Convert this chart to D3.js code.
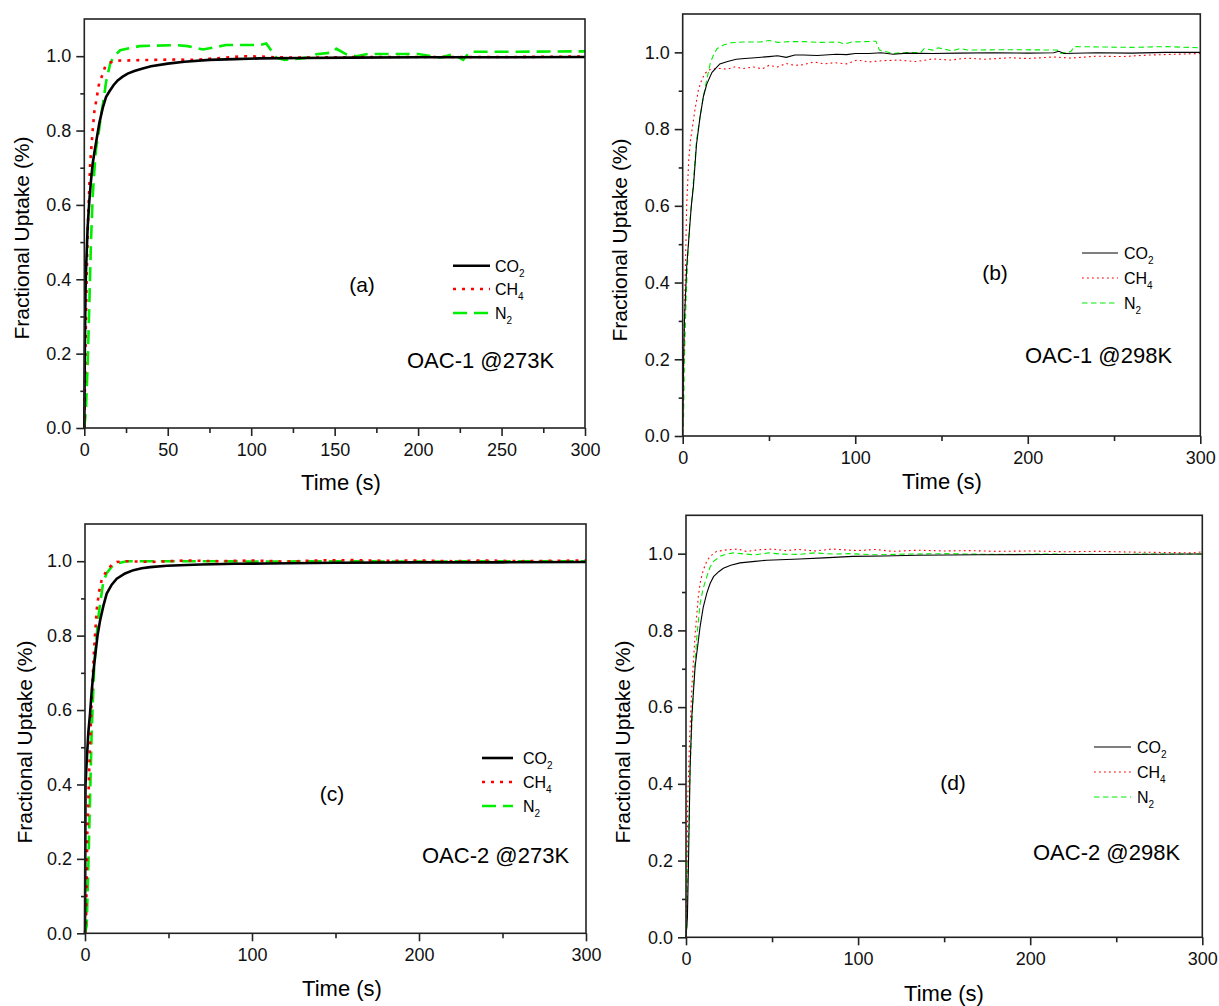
<!DOCTYPE html>
<html>
<head>
<meta charset="utf-8">
<script src="https://cdn.jsdelivr.net/npm/d3@7"></script>
<style>
  body { margin: 0; background: #fff; }
  svg { font-family: "Liberation Sans", Arial, sans-serif; }
</style>
</head>
<body>
<svg width="1219" height="1006"></svg>
<script>
// series: [time (s), fractional uptake]
const a_CO2 = [[0,0],[0.3,0.2],[0.7,0.36],[1,0.42],[2,0.54],[3,0.61],[4,0.665],[5,0.71],[6,0.74],[7.5,0.78],[9,0.82],[11,0.86],[13,0.89],[15,0.905],[17.5,0.922],[20,0.935],[23,0.945],[26,0.953],[30,0.96],[35,0.967],[40,0.973],[50,0.98],[60,0.985],[75,0.99],[90,0.992],[105,0.994],[130,0.995],[160,0.996],[200,0.997],[250,0.997],[300,0.998]]
const a_CH4 = [[0,0],[0.5,0.15],[1,0.3],[1.5,0.42],[2,0.52],[2.5,0.59],[3.5,0.71],[5,0.8],[6,0.85],[7.5,0.89],[9,0.93],[10.5,0.945],[12.5,0.972],[15,0.982],[17.5,0.986],[20,0.988],[30,0.989],[40,0.99],[55,0.991],[65,0.99],[75,0.993],[85,0.996],[95,1.0],[105,0.999],[115,0.997],[130,0.996],[150,0.997],[180,0.998],[220,0.998],[260,0.998],[300,0.999]]
const a_N2 = [[0,0],[1,0.05],[2,0.17],[3,0.33],[4,0.5],[5,0.62],[6,0.69],[7,0.75],[8.5,0.79],[10,0.84],[11.5,0.88],[13,0.93],[15.5,0.98],[17.5,0.998],[21.5,1.016],[33,1.027],[55,1.03],[62,1.027],[71,1.018],[85,1.03],[105,1.03],[109,1.034],[115,0.996],[120,0.99],[130,0.994],[137,0.998],[139,1.005],[149,1.01],[151,1.02],[157,1.005],[163,1.0],[170,1.006],[200,1.006],[213,0.996],[221,1.005],[227,0.99],[231,1.012],[260,1.012],[300,1.013]]

const b_CO2 = [[0,0],[0.5,0.2],[1,0.3],[2.3,0.44],[3.8,0.53],[5,0.6],[6.2,0.65],[8,0.76],[10,0.83],[12,0.885],[14,0.918],[17,0.948],[21.5,0.97],[26,0.976],[31,0.982],[36,0.984],[42,0.986],[50,0.989],[55,0.991],[60,0.987],[65,0.993],[70,0.993],[78,0.992],[89,0.995],[95,0.994],[100,0.997],[108,0.997],[115,0.999],[122,0.995],[130,0.998],[145,0.997],[160,0.998],[180,0.999],[200,0.998],[215,0.999],[218,1.003],[221,0.997],[240,0.999],[260,0.998],[280,1.0],[300,1.0]]
const b_CH4 = [[0,0],[0.5,0.15],[1,0.31],[2.3,0.6],[3.5,0.72],[4.5,0.77],[5.8,0.81],[7.1,0.85],[9,0.9],[11,0.928],[13,0.945],[15,0.954],[18,0.957],[22,0.958],[26,0.956],[30,0.962],[35,0.958],[41,0.962],[46,0.957],[50,0.966],[55,0.962],[60,0.971],[65,0.966],[70,0.968],[76,0.975],[82,0.97],[88,0.973],[95,0.97],[101,0.98],[108,0.975],[115,0.978],[125,0.98],[135,0.976],[145,0.983],[155,0.98],[165,0.985],[175,0.982],[190,0.986],[200,0.984],[215,0.988],[225,0.985],[240,0.99],[255,0.989],[270,0.993],[285,0.995],[300,0.997]]
const b_N2 = [[0,0],[0.5,0.05],[1,0.2],[2,0.36],[3,0.47],[4,0.55],[5,0.6],[6.5,0.68],[8,0.77],[10,0.83],[12,0.885],[14,0.93],[16,0.972],[18,0.995],[20,1.01],[24,1.02],[28,1.025],[35,1.027],[45,1.027],[50,1.031],[55,1.026],[62,1.028],[70,1.028],[80,1.026],[90,1.027],[94,1.022],[98,1.027],[112,1.029],[114,1.006],[122,0.997],[126,0.999],[138,1.0],[140,1.01],[145,1.006],[148,1.012],[152,1.008],[156,1.004],[161,1.01],[165,1.006],[190,1.007],[217,1.006],[219,0.997],[225,1.002],[227,1.015],[260,1.013],[280,1.015],[300,1.012]]

const c_CO2 = [[0,0],[0.3,0.4],[1,0.46],[2,0.54],[3,0.59],[4,0.65],[5,0.7],[6,0.743],[7.5,0.8],[9,0.84],[11,0.88],[13,0.913],[16,0.937],[19,0.953],[24,0.967],[29,0.976],[34,0.981],[39,0.984],[49,0.988],[69,0.991],[90,0.993],[110,0.994],[150,0.996],[200,0.997],[250,0.997],[300,0.998]]
const c_CH4 = [[0,0],[0.7,0.05],[1.4,0.27],[2.6,0.45],[4,0.63],[5.4,0.76],[7,0.87],[8.5,0.92],[10,0.95],[13,0.975],[16,0.99],[19,0.998],[25,1.0],[40,0.998],[60,1.002],[80,1.0],[100,1.002],[120,0.999],[140,1.002],[160,1.003],[180,1.001],[200,1.002],[220,1.0],[240,1.002],[260,1.0],[280,1.001],[300,1.002]]
const c_N2 = [[0,0],[1,0.02],[2,0.18],[3,0.36],[4,0.54],[5.5,0.716],[7,0.8],[8,0.85],[9.5,0.9],[11,0.945],[13,0.968],[16,0.985],[19,0.994],[25,1.0],[50,1.0],[80,1.0],[100,0.999],[150,1.0],[200,0.999],[250,1.0],[300,1.0]]

const d_CO2 = [[0,0],[0.8,0.05],[1.4,0.18],[2.4,0.445],[3.4,0.576],[5.3,0.706],[8.2,0.81],[10,0.86],[12.1,0.897],[14,0.922],[16,0.94],[19,0.953],[21.7,0.962],[26,0.97],[31.4,0.976],[40,0.98],[47,0.983],[66,0.986],[80,0.989],[97,0.993],[115,0.994],[134,0.996],[170,0.997],[210,0.998],[250,0.998],[300,0.999]]
const d_CH4 = [[0,0],[0.5,0.15],[1,0.36],[2.2,0.53],[3.5,0.66],[5.3,0.79],[7.2,0.89],[8.5,0.93],[10.1,0.958],[12,0.98],[14,0.993],[17.8,1.006],[23.6,1.01],[30,1.012],[35,1.006],[42,1.01],[50,1.012],[58,1.008],[65,1.011],[75,1.007],[85,1.012],[92,1.01],[100,1.008],[110,1.011],[120,1.006],[135,1.009],[150,1.007],[165,1.008],[180,1.006],[200,1.007],[220,1.005],[240,1.006],[260,1.004],[280,1.003],[295,1.002],[300,1.005]]
const d_N2 = [[0,0],[0.5,0.02],[1,0.18],[2.4,0.445],[4.4,0.66],[6.4,0.79],[8.2,0.87],[10,0.91],[12.1,0.94],[14,0.965],[16,0.98],[19.8,0.993],[23,0.998],[27.5,1.002],[32,1.0],[40,0.997],[48,1.002],[55,0.999],[65,0.998],[75,1.002],[85,0.999],[95,1.0],[110,0.997],[130,0.999],[150,1.0],[180,0.998],[210,0.999],[240,0.998],[270,0.999],[300,0.999]]

const gases = [["CO", "2"], ["CH", "4"], ["N", "2"]]
const yMajor = [0, 0.2, 0.4, 0.6, 0.8, 1.0]
const yMinor = [0.1, 0.3, 0.5, 0.7, 0.9]
const xMajorFine = [0, 50, 100, 150, 200, 250, 300]
const xMinorFine = [25, 75, 125, 175, 225, 275]
const xMajor = [0, 100, 200, 300]
const xMinor = [50, 150, 250]

const colors = ["#000000", "#ff0000", "#00ee00"]

const panels = [
    { series: [a_CO2, a_CH4, a_N2], left: 84.3, right: 585, top: 19, bottom: 428,
      xMaj: xMajorFine, xMin: xMinorFine, thick: true,
      tag: "(a)", tagPos: [362, 292], note: "OAC-1 @273K", notePos: [407, 368],
      leg: { x1: 453, x2: 490, tx: 495, rows: [265.7, 289, 313] },
      yTitle: [29, 238], xTitle: [341, 490] },
    { series: [b_CO2, b_CH4, b_N2], left: 682.7, right: 1200.3, top: 14, bottom: 436,
      xMaj: xMajor, xMin: xMinor, thick: false,
      tag: "(b)", tagPos: [995, 280], note: "OAC-1 @298K", notePos: [1025, 363],
      leg: { x1: 1082, x2: 1118, tx: 1124, rows: [253, 278, 303] },
      yTitle: [627, 240], xTitle: [942, 489] },
    { series: [c_CO2, c_CH4, c_N2], left: 85, right: 586, top: 524, bottom: 933.3,
      xMaj: xMajor, xMin: xMinor, thick: true,
      tag: "(c)", tagPos: [332, 801], note: "OAC-2 @273K", notePos: [422, 863],
      leg: { x1: 482, x2: 513, tx: 523, rows: [758, 782, 806] },
      yTitle: [32, 742], xTitle: [342, 996] },
    { series: [d_CO2, d_CH4, d_N2], left: 686, right: 1202.3, top: 515.3, bottom: 937.3,
      xMaj: xMajor, xMin: xMinor, thick: false,
      tag: "(d)", tagPos: [953, 790], note: "OAC-2 @298K", notePos: [1033, 860],
      leg: { x1: 1094, x2: 1131, tx: 1137, rows: [747, 772, 797] },
      yTitle: [630, 742], xTitle: [944, 1001] }
]

const svg = d3.select("svg")

panels.forEach(p => {
    const x = d3.scaleLinear().domain([0, 300]).range([p.left, p.right])
    const y = d3.scaleLinear().domain([0, 1.1]).range([p.bottom, p.top])
    const g = svg.append("g")

    const lw = p.thick ? 2.6 : 1.1
    const dashes = p.thick ? [null, "3,6", "14,7"] : [null, "1.8,3.2", "5.5,3.5"]

    // curves
    const line = d3.line().x(d => x(d[0])).y(d => y(d[1]))
    ;[2, 1, 0].forEach(i => {
        g.append("path")
            .attr("d", line(p.series[i]))
            .attr("fill", "none")
            .attr("stroke", colors[i])
            .attr("stroke-width", lw)
            .attr("stroke-dasharray", dashes[i])
    })

    // frame
    g.append("rect")
        .attr("x", p.left).attr("y", p.top)
        .attr("width", p.right - p.left).attr("height", p.bottom - p.top)
        .attr("fill", "none").attr("stroke", "#222").attr("stroke-width", 1.6)

    // axes
    const styleAxis = sel => {
        sel.select(".domain").remove()
        sel.selectAll("line").attr("stroke", "#222").attr("stroke-width", 1.6)
        sel.selectAll("text").attr("font-size", 18).attr("fill", "#111")
            .style("font-family", "'Liberation Sans', Arial, sans-serif")
    }
    g.append("g").attr("transform", `translate(0,${p.bottom})`)
        .call(d3.axisBottom(x).tickValues(p.xMaj).tickSize(8).tickPadding(7).tickFormat(d3.format("d")))
        .call(styleAxis)
    g.append("g").attr("transform", `translate(0,${p.bottom})`)
        .call(d3.axisBottom(x).tickValues(p.xMin).tickSize(5).tickFormat(""))
        .call(styleAxis)
    g.append("g").attr("transform", `translate(${p.left},0)`)
        .call(d3.axisLeft(y).tickValues(yMajor).tickSize(8).tickPadding(5).tickFormat(d3.format(".1f")))
        .call(styleAxis)
    g.append("g").attr("transform", `translate(${p.left},0)`)
        .call(d3.axisLeft(y).tickValues(yMinor).tickSize(4).tickFormat(""))
        .call(styleAxis)

    // axis titles
    g.append("text")
        .attr("transform", `translate(${p.yTitle[0]},${p.yTitle[1]}) rotate(-90)`)
        .attr("text-anchor", "middle")
        .attr("font-size", 21)
        .text("Fractional Uptake (%)")
    g.append("text")
        .attr("x", p.xTitle[0]).attr("y", p.xTitle[1])
        .attr("text-anchor", "middle")
        .attr("font-size", 22)
        .text("Time (s)")

    // panel tag and condition
    g.append("text")
        .attr("x", p.tagPos[0]).attr("y", p.tagPos[1])
        .attr("text-anchor", "middle")
        .attr("font-size", 21)
        .text(p.tag)
    g.append("text")
        .attr("x", p.notePos[0]).attr("y", p.notePos[1])
        .attr("font-size", 22)
        .text(p.note)

    // legend
    gases.forEach((gas, i) => {
        const ry = p.leg.rows[i]
        g.append("line")
            .attr("x1", p.leg.x1).attr("x2", p.leg.x2)
            .attr("y1", ry).attr("y2", ry)
            .attr("stroke", colors[i])
            .attr("stroke-width", lw)
            .attr("stroke-dasharray", dashes[i])
        const t = g.append("text")
            .attr("x", p.leg.tx).attr("y", ry + 6)
            .attr("font-size", 16)
        t.append("tspan").text(gas[0])
        t.append("tspan").attr("font-size", 10).attr("dy", 5).text(gas[1])
    })
})
</script>
</body>
</html>
